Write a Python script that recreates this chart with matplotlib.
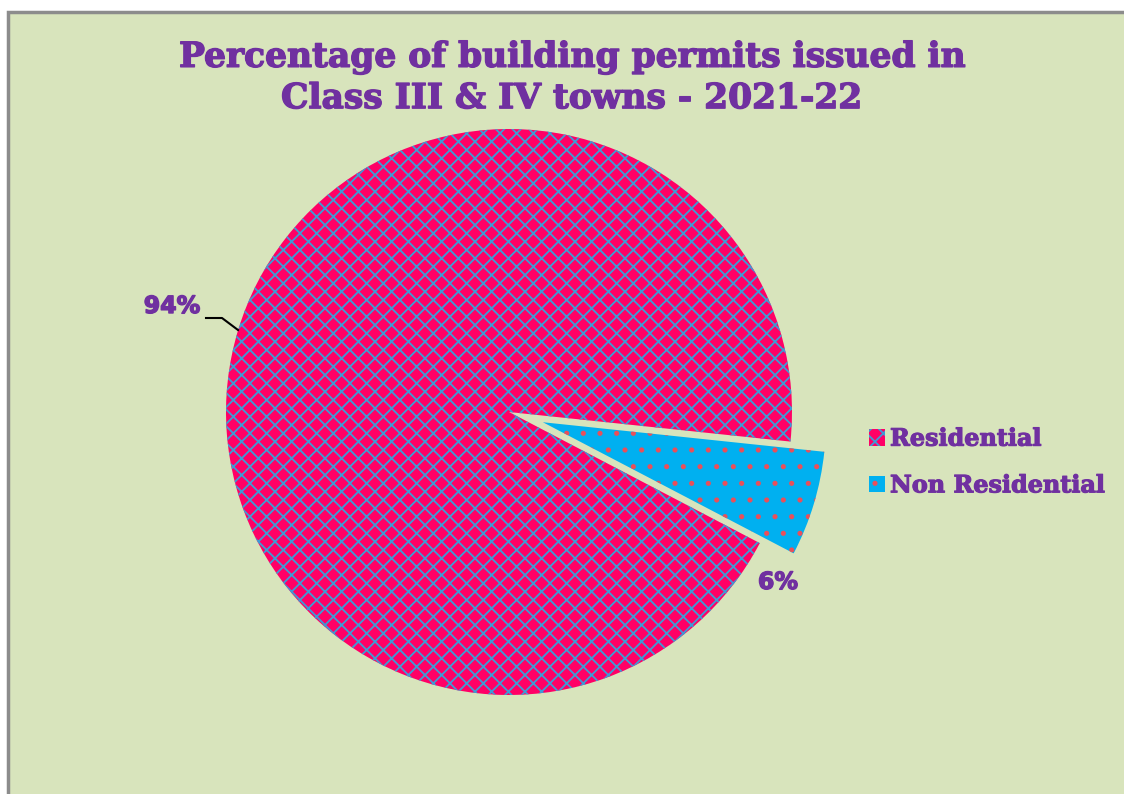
import matplotlib
matplotlib.use("Agg")
import matplotlib.pyplot as plt
from matplotlib.patches import Rectangle
import matplotlib.patheffects as pe

title = "Percentage of building permits issued in\nClass III & IV towns - 2021-22"
categories = ["Residential", "Non Residential"]
values = [94, 6]
labels = ["94%", "6%"]

W, H = 1124, 794
fig = plt.figure(figsize=(W / 100, H / 100), dpi=100)
fig.patch.set_facecolor("white")
ax = fig.add_axes([0, 0, 1, 1])

bg = "#D8E4BC"
purple = "#7030A0"
ax.add_patch(Rectangle((8, -5), W, H - 12 + 5, facecolor=bg, edgecolor="#8c8c8c", lw=2.5, zorder=0))

plt.rcParams["hatch.linewidth"] = 1.3
cx, cy, R = 509, H - 412, 283
wedges, _ = ax.pie(values, startangle=-6, counterclock=True, center=(cx, cy), radius=R,
                   explode=[0, 0.125 * R], colors=["#FF0066", "#00B0F0"],
                   wedgeprops=dict(linewidth=0), frame=True)
ax.set_xlim(0, W)
ax.set_ylim(0, H)
ax.set_aspect("auto")
ax.axis("off")
wedges[0].set_hatch("xx")
wedges[0].set_edgecolor("#3D9BD6")
wedges[1].set_hatch(".")
wedges[1].set_edgecolor("#E8505A")
for w in wedges:
    w.set_linewidth(0)

font = "DejaVu Serif"
stroke = [pe.withStroke(linewidth=1.0, foreground=purple)]
ax.text(572, H - 78, title, ha="center", va="center", fontsize=24.8, fontweight="bold",
        color=purple, family=font, linespacing=1.32, path_effects=stroke)

ax.text(172, H - 306, labels[0], ha="center", va="center", fontsize=17, fontweight="bold",
        color=purple, family="DejaVu Sans", path_effects=stroke)
ax.plot([206, 222, 238], [H - 318, H - 318, H - 330], color="black", lw=1.5)
ax.text(778, H - 582, labels[1], ha="center", va="center", fontsize=17, fontweight="bold",
        color=purple, family="DejaVu Sans", path_effects=stroke)

leg = ax.legend(wedges, categories, loc="center left", bbox_to_anchor=(847 / W, 1 - 462 / H),
                frameon=False, handlelength=0.7, handleheight=0.7, handletextpad=0.2,
                labelspacing=0.95, prop=dict(family=font, weight="bold", size=17.2))
for t in leg.get_texts():
    t.set_color(purple)
    t.set_path_effects([pe.withStroke(linewidth=0.8, foreground=purple)])

fig.savefig("out.png", dpi=100, facecolor="white")
